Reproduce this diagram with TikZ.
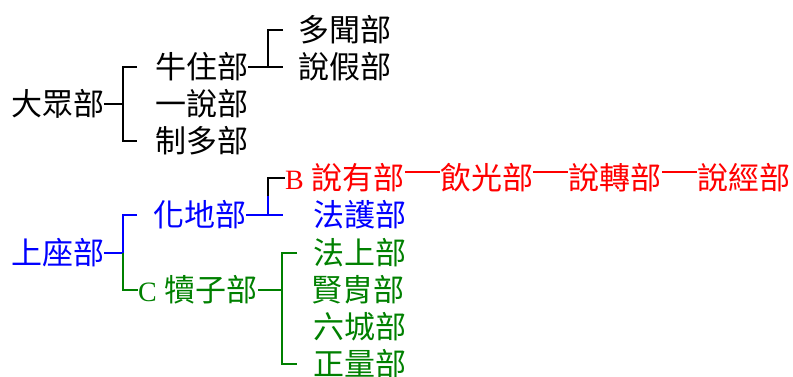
\documentclass[tikz,border=0pt]{standalone}
\usepackage{fontspec}
\setmainfont{Liberation Serif}
\newfontfamily\cjk{Noto Sans CJK TC}
\usetikzlibrary{positioning}
\definecolor{schoolred}{RGB}{255,0,0}
\definecolor{schoolblue}{RGB}{0,0,255}
\definecolor{schoolgreen}{RGB}{0,128,0}
\newcommand{\tag}[1]{{\rmfamily\fontsize{28}{28}\selectfont #1}\hspace{8pt}}
\tikzstyle{school} = [anchor=west, inner sep=0pt, font=\fontsize{31}{31}\selectfont\cjk]
\tikzstyle{branch} = [line width=1.4pt]

\begin{document}
\begin{tikzpicture}[x=1pt, y=1pt, node distance=37pt]
    \useasboundingbox (0,0) rectangle (793,-376);

    % Mahasanghika
    \node(dazhong)[school] at (11,-104){大眾部};
    \node(niuzhu)[school] at (155,-67){牛住部};
    \node(yishuo)[school, below=of niuzhu.west, anchor=west]{一說部};
    \node(zhiduo)[school, below=of yishuo.west, anchor=west]{制多部};
    \node(duowen)[school] at (298,-30){多聞部};
    \node(shuojia)[school, below=of duowen.west, anchor=west]{說假部};

    % Sthavira
    \node(shangzuo)[school, text=schoolblue] at (11,-253){上座部};
    \node(huadi)[school, text=schoolblue] at (153,-215){化地部};
    \node(fahu)[school, text=schoolblue] at (313,-215){法護部};
    \node(shuoyou)[school, text=schoolred] at (285,-178){\tag{B}說有部};
    \node(yinguang)[school, text=schoolred, right=35pt of shuoyou]{飲光部};
    \node(shuozhuan)[school, text=schoolred, right=35pt of yinguang]{說轉部};
    \node(shuojing)[school, text=schoolred, right=35pt of shuozhuan]{說經部};
    \node(duzi)[school, text=schoolgreen] at (138,-290){\tag{C}犢子部};
    \node(fashang)[school, text=schoolgreen] at (313,-253){法上部};
    \node(xianzhou)[school, text=schoolgreen, below=of fashang.west, anchor=west, xshift=-2pt]{賢胄部};
    \node(liucheng)[school, text=schoolgreen, below=of fashang.west, anchor=west, yshift=-37pt]{六城部};
    \node(zhengliang)[school, text=schoolgreen, below=of liucheng.west, anchor=west]{正量部};

    \coordinate(jdz) at (123,-104);
    \coordinate(jnz) at (268,-67);
    \coordinate(jsz) at (123,-253);
    \coordinate(jhd) at (268,-215);
    \coordinate(jhd2) at (268,-196);
    \coordinate(jdzi) at (282,-290);

    \draw[branch] (dazhong) -- (jdz);
    \draw[branch] ([xshift=-18pt]niuzhu.west) -| (jdz) |- ([xshift=-18pt]zhiduo.west);
    \draw[branch] (niuzhu) -- ([xshift=-15pt]shuojia.west);
    \draw[branch] ([xshift=-15pt]duowen.west) -| (jnz);

    \draw[branch, schoolblue] (shangzuo) -- (jsz);
    \draw[branch, schoolblue] ([xshift=-16pt]huadi.west) -| (jsz);
    \draw[branch, schoolgreen] (jsz) |- (duzi);

    \draw[branch, schoolblue] (huadi) -- ([xshift=-30pt]fahu.west);
    \draw[branch, schoolblue] (jhd) -- (jhd2);
    \draw[branch] (jhd2) |- (shuoyou);

    \draw[branch, schoolred] ([yshift=6pt]shuoyou.east) -- ([yshift=6pt]yinguang.west);
    \draw[branch, schoolred] ([yshift=6pt]yinguang.east) -- ([yshift=6pt]shuozhuan.west);
    \draw[branch, schoolred] ([yshift=6pt]shuozhuan.east) -- ([yshift=6pt]shuojing.west);

    \draw[branch, schoolgreen] (duzi) -- (jdzi);
    \draw[branch, schoolgreen] ([xshift=-16pt]fashang.west) -| (jdzi) |- ([xshift=-16pt]zhengliang.west);

\end{tikzpicture}
\end{document}
